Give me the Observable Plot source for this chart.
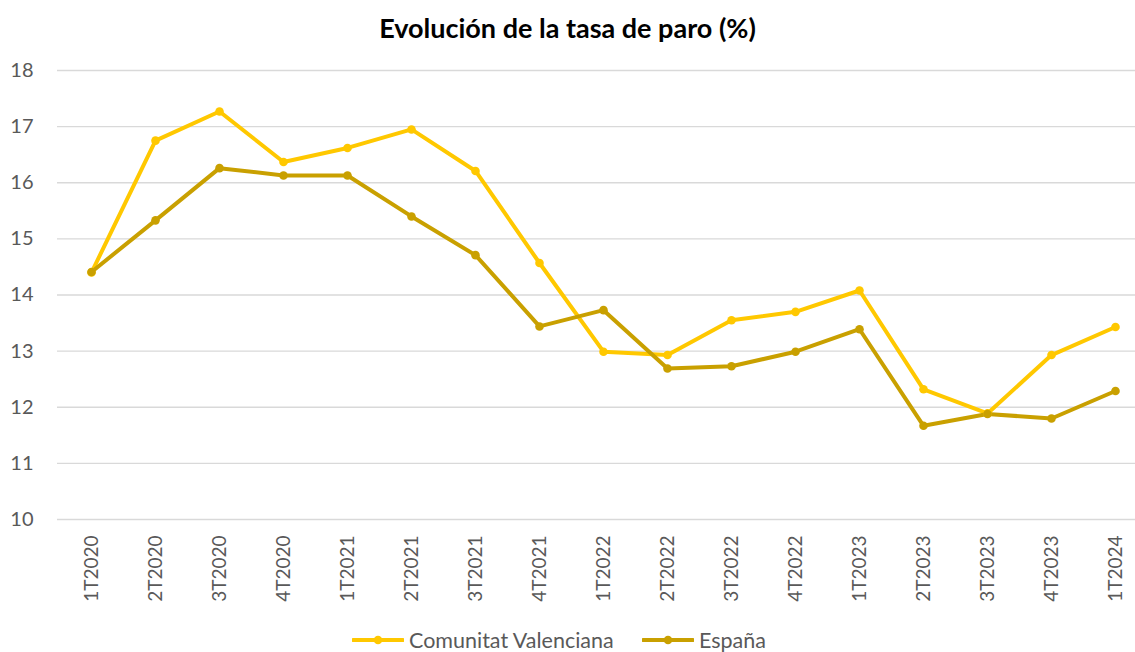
<!DOCTYPE html>
<html>
<head>
<meta charset="utf-8">
<script src="https://cdn.jsdelivr.net/npm/d3@7"></script>
<script src="https://cdn.jsdelivr.net/npm/@observablehq/plot@0.6"></script>
<style>
  body { margin: 0; background: #fff; font-family: Lato, "Open Sans", sans-serif; }
  #wrap { position: relative; width: 1135px; height: 652px; overflow: hidden; }
  #title { position: absolute; top: 0; left: 0; width: 1135px; height: 50px; line-height: 56px; text-align: center; font-weight: bold; font-size: 27px; color: #000; }
  #chart { position: absolute; top: 50px; left: 0; }
  .leg { position: absolute; top: 627px; display: flex; align-items: center; font-size: 21.5px; color: #595959; }
  .leg svg { margin-right: 5px; }
</style>
</head>
<body>
<div id="wrap">
  <div id="title">Evolución de la tasa de paro (%)</div>
  <div id="chart"></div>
  <div id="legend"></div>
</div>
<script>
const quarters = ["1T2020","2T2020","3T2020","4T2020","1T2021","2T2021","3T2021","4T2021","1T2022","2T2022","3T2022","4T2022","1T2023","2T2023","3T2023","4T2023","1T2024"];
const comunitatValenciana = [14.40,16.75,17.27,16.37,16.62,16.95,16.21,14.57,12.99,12.93,13.55,13.70,14.08,12.32,11.89,12.93,13.43];
const espana = [14.41,15.33,16.26,16.13,16.13,15.40,14.71,13.44,13.73,12.69,12.73,12.99,13.39,11.67,11.88,11.80,12.29];
const seriesNames = ["Comunitat Valenciana","España"];
const seriesColors = ["#FFC800","#C9A000"];
const yTicks = [10,11,12,13,14,15,16,17,18];

const data = [];
quarters.forEach((q,i) => {
  data.push({q, v: comunitatValenciana[i], s: seriesNames[0]});
  data.push({q, v: espana[i], s: seriesNames[1]});
});

const chart = Plot.plot({
  width: 1135,
  height: 562,
  marginTop: 20,
  marginBottom: 93,
  marginLeft: 57,
  marginRight: 0,
  style: { color: "#595959", fontFamily: "Lato, 'Open Sans', sans-serif", background: "transparent" },
  x: { type: "point", domain: quarters, range: [88, 1118], padding: 0 },
  y: { domain: [10, 18] },
  color: { domain: seriesNames, range: seriesColors },
  marks: [
    Plot.gridY(yTicks, { stroke: "#D9D9D9", strokeOpacity: 1, strokeWidth: 1.4 }),
    Plot.axisY(yTicks, { tickSize: 0, tickPadding: 24, fontSize: 20, label: null, tickFormat: d => d }),
    Plot.axisX({ tickSize: 0, tickRotate: -90, tickPadding: 16, fontSize: 19, label: null }),
    Plot.line(data, { x: "q", y: "v", z: "s", stroke: "s", strokeWidth: 4, strokeLinejoin: "round" }),
    Plot.dot(data, { x: "q", y: "v", fill: "s", r: 4.3 })
  ]
});
document.getElementById("chart").appendChild(chart);

const legend = document.getElementById("legend");
const legLeft = [352, 642];
seriesNames.forEach((name, i) => {
  const d = document.createElement("div");
  d.className = "leg";
  d.style.left = legLeft[i] + "px";
  d.innerHTML = `<svg width="52" height="12"><line x1="1" y1="6" x2="51" y2="6" stroke="${seriesColors[i]}" stroke-width="4" stroke-linecap="round"/><circle cx="26" cy="6" r="4.3" fill="${seriesColors[i]}"/></svg><span>${name}</span>`;
  legend.appendChild(d);
});
</script>
</body>
</html>
